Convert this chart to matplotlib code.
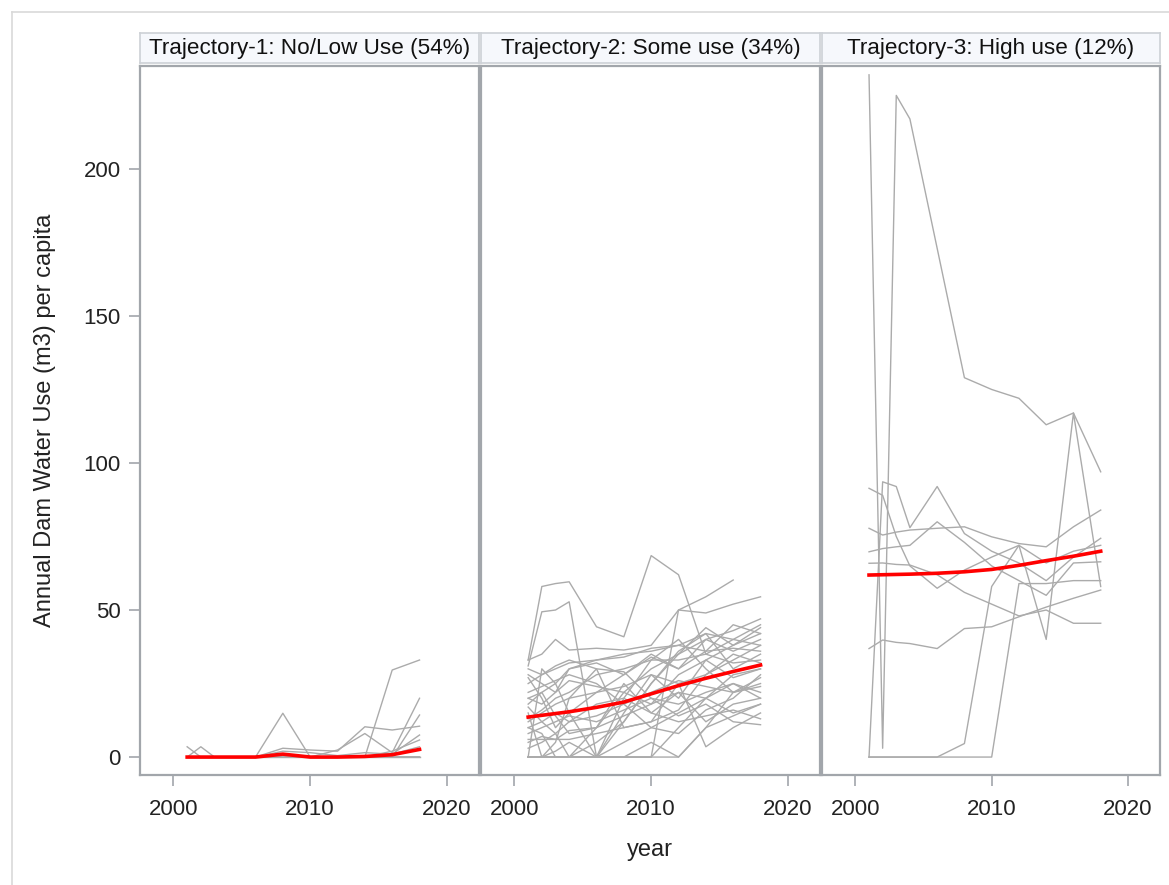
import numpy as np
import matplotlib.pyplot as plt
from matplotlib.lines import Line2D

plt.rcParams['font.family'] = ['Liberation Sans', 'DejaVu Sans']

nan = np.nan
years = [2001, 2002, 2003, 2004, 2006, 2008, 2010, 2012, 2014, 2016, 2018]

titles = ['Trajectory-1: No/Low Use (54%)',
          'Trajectory-2: Some use (34%)',
          'Trajectory-3: High use (12%)']

# individual country trajectories, trajectory 1
traj1 = [
    [3.5, 0, 0, 0, 0, 0, 0, 0, 0, 0, 0],
    [0, 3.5, 0, 0, 0, 0, 0, 0, 0, 0, 0],
    [0, 0, 0, 0, 0, 14.9, 0, 0, 0, 0, 0],
    [0, 0, 0, 0, 0, 3, 2.4, 2, 10.3, 9.2, 10.5],
    [0, 0, 0, 0, 0, 0, 0, 0, 0, 29.6, 33],
    [0, 0, 0, 0, 0, 0, 0, 2.4, 8, 1.5, 20],
    [0, 0, 0, 0, 0, 0, 0, 0, 0, 0, 14.3],
    [0, 0, 0, 0, 0, 0, 0, 0, 0, 1, 7.5],
    [0, 0, 0, 0, 0, 0, 0, 0, 0, 2, 5.8],
    [0, 0, 0, 0, 0, 2, 1.5, 0.5, 1.5, 1, 3.5],
    [0, 0, 0, 0, 0, 0, 0, 0, 0, 0, 0],
]

# trajectory 2
traj2 = [
    [33, 58, 59, 59.6, 44.3, 40.9, 68.5, 62, 35, 40, 38],
    [31, 49.4, 50, 52.8, 0, 12, 25, 35, 44, 38, 42],
    [33, 35, 40, 36.4, 37, 36.4, 38, 50, 54.5, 60.2, nan],
    [0, 0, 0, 0, 0, 0, 0, 50, 49, 52, 54.5],
    [12, 15, 18, 20, 22, 24, 28, 25, 3.5, 10, 15],
    [25, 28, 30, 32, 33, 35, 36, 38, 42, 40, 45],
    [20, 18, 22, 26, 24, 22, 30, 35, 40, 43, 47],
    [8, 10, 12, 14, 12, 16, 20, 18, 22, 25, 22],
    [5, 7, 6, 9, 10, 14, 18, 22, 20, 28, 30],
    [0, 0, 0, 0, 0, 5, 10, 15, 20, 25, 20],
    [0, 0, 0, 0, 0, 0, 0, 0, 10, 14, 18],
    [30, 28, 31, 33, 30, 29, 20, 14, 18, 12, 11],
    [15, 0, 5, 20, 30, 10, 12, 25, 28, 35, 32],
    [0, 30, 25, 15, 0, 20, 33, 40, 30, 22, 25],
    [18, 22, 14, 8, 10, 25, 15, 12, 14, 16, 13],
    [27, 20, 10, 15, 22, 28, 34, 30, 36, 45, 42],
    [10, 12, 15, 12, 18, 20, 15, 22, 12, 18, 20],
    [6, 6, 6, 6, 8, 10, 12, 16, 28, 33, 38],
    [22, 24, 26, 28, 25, 18, 10, 8, 16, 20, 28],
    [3, 5, 8, 0, 5, 12, 25, 36, 42, 30, 35],
    [0, 0, 2, 5, 0, 15, 28, 20, 33, 38, 44],
    [13, 16, 20, 22, 28, 30, 33, 33, 35, 32, 33],
    [17, 12, 8, 12, 14, 18, 22, 26, 24, 22, 24],
    [0, 0, 0, 0, 0, 0, 5, 0, 10, 22, 27],
    [28, 25, 22, 30, 32, 28, 35, 30, 40, 36, 40],
    [10, 8, 0, 0, 10, 22, 18, 28, 33, 27, 30],
    [0, 0, 0, 0, 0, 0, 0, 10, 20, 15, 18],
    [20, 22, 25, 30, 33, 34, 37, 38, 36, 37, 36],
]

# trajectory 3
traj3 = [
    [232, 3, 225, 217, 173, 129, 125, 122, 113, 117, 97],
    [77.8, 75.5, 76.5, 77.2, 77.8, 78.3, 74.9, 72.6, 71.5, 78.3, 84],
    [91.4, 89, 75, 65, 57.4, 63.6, 68, 72, 40, 117, 58],
    [69.8, 70.9, 71.5, 72, 80, 73, 65, 60, 55, 66, 66.4],
    [65.9, 66, 65.5, 65.3, 62, 56, 52, 48, 50, 45.5, 45.5],
    [36.9, 39.8, 39, 38.6, 36.9, 43.7, 44.3, 47.7, 51, 54, 56.8],
    [0, 93.6, 92, 78, 92, 76, 70, 66, 60, 68, 74.4],
    [0, 0, 0, 0, 0, 4.6, 58, 72, 66, 70, 72],
    [0, 0, 0, 0, 0, 0, 0, 59, 59, 60, 60],
]

# mean trajectory per group
mean1 = [0, 0, 0, 0, 0, 1.0, 0, 0, 0.2, 0.8, 2.6]
mean2 = [13.6, 14.2, 14.8, 15.4, 16.9, 18.7, 21.5, 24.3, 26.8, 29.1, 31.3]
mean3 = [61.9, 62.0, 62.1, 62.2, 62.5, 63.0, 63.8, 65.2, 66.8, 68.3, 70.0]

groups = [traj1, traj2, traj3]
means = [mean1, mean2, mean3]

W, H = 1169, 885
fig = plt.figure(figsize=(W / 100, H / 100), dpi=100)


def box(x0, y0, x1, y1):
    return [x0 / W, 1 - y1 / H, (x1 - x0) / W, (y1 - y0) / H]


edge = '#a2a6ab'
panels = [(140, 479), (481, 820), (822, 1160)]

for i, (x0, x1) in enumerate(panels):
    ax = fig.add_axes(box(x0, 66, x1, 775))
    for tr in groups[i]:
        ax.plot(years, tr, color='#ababab', lw=1.0, zorder=2)
    ax.plot(years, means[i], color='#ff0000', lw=2.6, zorder=3)
    ax.set_xlim(1997.55, 2022.35)
    ax.set_ylim(-6.1, 235)
    ax.set_xticks([2000, 2010, 2020])
    ax.tick_params(axis='x', length=8, width=1.2, color=edge, pad=9,
                   labelsize=16, labelcolor='#222222')
    if i == 0:
        ax.set_yticks([0, 50, 100, 150, 200])
        ax.tick_params(axis='y', length=8, width=1.2, color=edge, pad=6,
                       labelsize=16, labelcolor='#222222')
    else:
        ax.set_yticks([])
    for s in ax.spines.values():
        s.set_color(edge)
        s.set_linewidth(1.6)

    # panel header
    hax = fig.add_axes(box(x0, 33, x1, 63))
    hax.set_facecolor('#f6f8fc')
    hax.set_xticks([])
    hax.set_yticks([])
    for s in hax.spines.values():
        s.set_color('#cdd1d6')
        s.set_linewidth(1.2)
    hax.text(0.5, 0.47, titles[i], ha='center', va='center', fontsize=16.2,
             color='#111111', transform=hax.transAxes)

fig.text(650 / W, 1 - 850 / H, 'year', ha='center', va='center',
         fontsize=17, color='#222222')
fig.text(45 / W, 1 - 420 / H, 'Annual Dam Water Use (m3) per capita',
         ha='center', va='center', rotation=90, fontsize=17, color='#222222')

# light outer frame
fig.add_artist(Line2D([12 / W, 12 / W], [0, 1 - 12 / H], color='#d9d9d9', lw=1.2))
fig.add_artist(Line2D([12 / W, 1], [1 - 12 / H, 1 - 12 / H], color='#d9d9d9', lw=1.2))

fig.savefig('out.png', dpi=100, facecolor='white')
